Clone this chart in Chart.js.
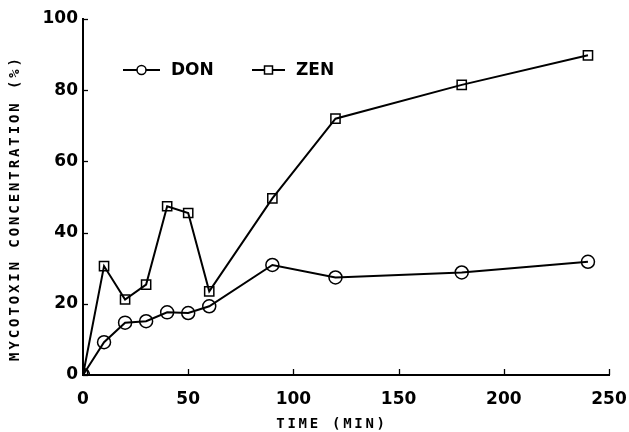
<!DOCTYPE html>
<html>
<head>
<meta charset="utf-8">
<script src="https://cdn.jsdelivr.net/npm/chart.js@4/dist/chart.umd.min.js"></script>
<style>
  html, body { margin: 0; padding: 0; background: #fff; }
  #wrap { width: 629px; height: 432px; }
</style>
</head>
<body>
<div id="wrap"><canvas id="c" width="629" height="432"></canvas></div>
<script>
const timeMin = [0, 10, 20, 30, 40, 50, 60, 90, 120, 180, 240];
const donValues = [0, 9.2, 14.7, 15.1, 17.6, 17.4, 19.3, 30.9, 27.4, 28.8, 31.8];
const zenValues = [0, 30.6, 21.2, 25.4, 47.4, 45.5, 23.5, 49.6, 72, 81.5, 89.8];
const xTicks = [0, 50, 100, 150, 200, 250];
const yTicks = [0, 20, 40, 60, 80, 100];
const seriesLabels = ['DON', 'ZEN'];
const xTitle = 'TIME (MIN)';
const yTitle = 'MYCOTOXIN CONCENTRATION (%)';

const toPts = (xs, ys) => xs.map((x, i) => ({ x: x, y: ys[i] }));

const tickFont = { family: 'DejaVu Sans', weight: 'bold', size: 17 };

const customPlugin = {
  id: 'custom',
  afterDraw(chart) {
    const ctx = chart.ctx;
    const xs = chart.scales.x, ys = chart.scales.y;
    ctx.save();
    ctx.strokeStyle = '#000';
    ctx.lineWidth = 1.3;
    // inward ticks
    xTicks.forEach(v => {
      const px = Math.round(xs.getPixelForValue(v)) + 0.5;
      ctx.beginPath();
      ctx.moveTo(px, ys.bottom);
      ctx.lineTo(px, ys.bottom - 6);
      ctx.stroke();
    });
    yTicks.forEach(v => {
      const py = Math.round(ys.getPixelForValue(v)) + 0.5;
      ctx.beginPath();
      ctx.moveTo(xs.left, py);
      ctx.lineTo(xs.left + 5, py);
      ctx.stroke();
    });
    // axis titles with letter spacing
    ctx.fillStyle = '#000';
    ctx.font = 'bold 14px "DejaVu Sans Mono"';
    ctx.letterSpacing = '2.7px';
    ctx.textAlign = 'center';
    ctx.textBaseline = 'middle';
    ctx.fillText(xTitle, 332, 424);
    ctx.save();
    ctx.translate(15, 208);
    ctx.rotate(-Math.PI / 2);
    ctx.letterSpacing = '2.9px';
    ctx.fillText(yTitle, 0, 0);
    ctx.restore();
    ctx.letterSpacing = '0px';
    // legend inside plot
    const legendY = 70;
    const items = [
      { x0: 123, x1: 160, text: 171, ds: chart.data.datasets[0] },
      { x0: 252, x1: 285, text: 296, ds: chart.data.datasets[1] }
    ];
    items.forEach(it => {
      ctx.lineWidth = 2;
      ctx.beginPath();
      ctx.moveTo(it.x0, legendY);
      ctx.lineTo(it.x1, legendY);
      ctx.stroke();
      const cx = (it.x0 + it.x1) / 2;
      ctx.lineWidth = 1.5;
      ctx.fillStyle = '#fff';
      ctx.beginPath();
      if (it.ds.pointStyle === 'circle') {
        ctx.arc(cx, legendY, 4.5, 0, Math.PI * 2);
      } else {
        ctx.rect(cx - 4, legendY - 4, 8, 8);
      }
      ctx.fill();
      ctx.stroke();
      ctx.fillStyle = '#000';
      ctx.font = 'bold 17px "DejaVu Sans"';
      ctx.textAlign = 'left';
      ctx.textBaseline = 'middle';
      ctx.fillText(it.ds.label, it.text, legendY + 1);
    });
    ctx.restore();
  }
};

new Chart(document.getElementById('c'), {
  type: 'line',
  data: {
    datasets: [
      {
        label: seriesLabels[0],
        data: toPts(timeMin, donValues),
        borderColor: '#000',
        borderWidth: 2,
        pointStyle: 'circle',
        pointRadius: 6.5,
        pointBorderWidth: 1.5,
        pointBackgroundColor: 'rgba(255,255,255,0)',
        pointBorderColor: '#000',
        tension: 0
      },
      {
        label: seriesLabels[1],
        data: toPts(timeMin, zenValues),
        borderColor: '#000',
        borderWidth: 2,
        pointStyle: 'rect',
        pointRadius: 6.5,
        pointBorderWidth: 1.5,
        pointBackgroundColor: 'rgba(255,255,255,0)',
        pointBorderColor: '#000',
        tension: 0
      }
    ]
  },
  options: {
    responsive: false,
    animation: false,
    devicePixelRatio: 1,
    layout: { padding: { top: 19, right: 20, left: 0, bottom: 0 } },
    plugins: { legend: { display: false }, tooltip: { enabled: false } },
    scales: {
      x: {
        type: 'linear',
        min: 0, max: 250,
        afterBuildTicks: s => { s.ticks = xTicks.map(v => ({ value: v })); },
        afterFit: s => { s.height = 57; s.paddingRight = 0; s.paddingLeft = 0; },
        grid: { display: false, drawTicks: false },
        border: { display: true, color: '#000', width: 2 },
        ticks: { color: '#000', font: tickFont, padding: 14, maxRotation: 0 }
      },
      y: {
        type: 'linear',
        min: 0, max: 100,
        afterBuildTicks: s => { s.ticks = yTicks.map(v => ({ value: v })); },
        afterFit: s => { s.width = 83; s.paddingTop = 0; s.paddingBottom = 0; },
        grid: { display: false, drawTicks: false },
        border: { display: true, color: '#000', width: 2 },
        ticks: { color: '#000', font: tickFont, padding: 5 }
      }
    }
  },
  plugins: [customPlugin]
});
</script>
</body>
</html>
